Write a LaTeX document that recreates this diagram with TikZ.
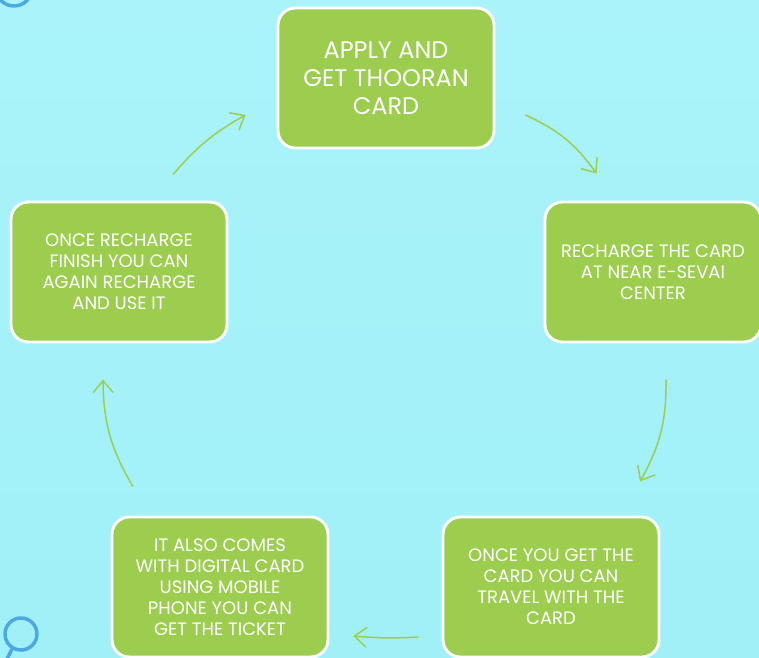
\documentclass[tikz,border=0pt]{standalone}
\usepackage{fontspec}
\setmainfont{Poppins}
\usetikzlibrary{arrows.meta}
\definecolor{sky}{RGB}{160,240,248}
\definecolor{skytop}{RGB}{170,243,250}
\definecolor{leaf}{RGB}{156,205,79}
\definecolor{loupe}{RGB}{75,168,224}
\tikzstyle{block} = [rectangle,rounded corners=13pt,draw=white,line width=2.2pt,fill=leaf,
  text=white,align=center,minimum width=162pt,minimum height=105pt,
  font=\fontsize{13.5}{15.8}\selectfont]
\tikzstyle{line} = [draw=leaf,line width=1.1pt,-{Straight Barb[length=9pt,width=15pt]},bend left=15]

\begin{document}
\begin{tikzpicture}[x=0.75pt,y=-0.75pt]
            \useasboundingbox (0,0) rectangle (759,657);
            \clip (0,0) rectangle (759,657);
            \shade[top color=skytop,bottom color=sky] (0,0) rectangle (759,657);
            % corner decorations
            \draw[loupe,line width=2.6pt] (14,-12) circle (18);
            \draw[loupe,line width=2.6pt] (21,634) circle (16);
            \draw[loupe,line width=2.6pt] (12,649) -- (4,665);
            % steps of the cycle
            \node[block,font=\fontsize{18}{21}\selectfont] (apply) at (386,78) {APPLY AND\\GET THOORAN\\CARD};
            \node[block] (recharge) at (653,272) {RECHARGE THE CARD\\AT NEAR E-SEVAI\\CENTER};
            \node[block] (travel) at (551,587) {ONCE YOU GET THE\\CARD YOU CAN\\TRAVEL WITH THE\\CARD};
            \node[block] (digital) at (220,587) {IT ALSO COMES\\WITH DIGITAL CARD\\USING MOBILE\\PHONE YOU CAN\\GET THE TICKET};
            \node[block] (again) at (119,272) {ONCE RECHARGE\\FINISH YOU CAN\\AGAIN RECHARGE\\AND USE IT};
            % arrow ends
            \coordinate (a1) at ([shift={(30,37)}]apply.east);
            \coordinate (r0) at ([shift={(53,-27)}]recharge.north west);
            \coordinate (r1) at ([shift={(13,36)}]recharge.south);
            \coordinate (t0) at ([shift={(89,-34)}]travel.north);
            \coordinate (t1) at ([shift={(-23,50)}]travel.west);
            \coordinate (d0) at ([shift={(24,49)}]digital.east);
            \coordinate (d1) at ([shift={(-87,-29)}]digital.north);
            \coordinate (g0) at ([shift={(-16,36)}]again.south);
            \coordinate (g1) at ([shift={(54,-26)}]again.north);
            \coordinate (p0) at ([shift={(-31,37)}]apply.west);
            \path[line] (a1) to (r0);
            \path[line] (r1) to (t0);
            \path[line,bend left=4] (t1) to (d0);
            \path[line] (d1) to (g0);
            \path[line,bend left=10] (g1) to (p0);
        \end{tikzpicture}
\end{document}
